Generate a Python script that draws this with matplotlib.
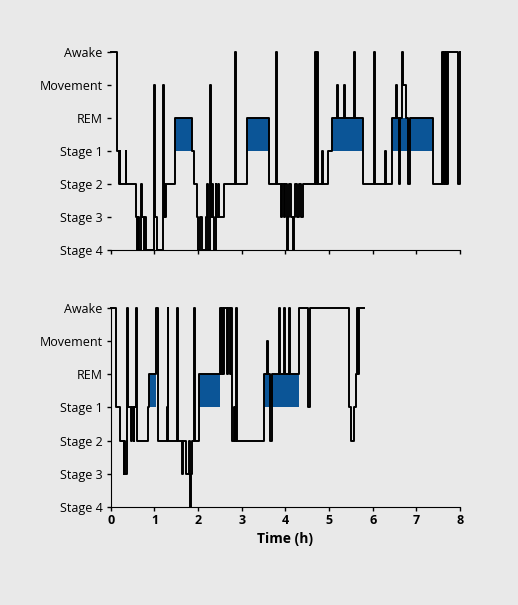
import matplotlib
matplotlib.use("Agg")
import matplotlib.pyplot as plt
import numpy as np

stage_labels = ["Stage 4", "Stage 3", "Stage 2", "Stage 1", "REM", "Movement", "Awake"]

# Top hypnogram: times (h) where stage changes, and stage index (0=Stage 4 ... 6=Awake)
top_t = [0.00, 0.15, 0.18, 0.20, 0.22, 0.34, 0.35, 0.57, 0.60, 0.62, 0.64, 0.70, 0.72, 0.75, 0.78, 0.80,
         1.00, 1.02, 1.05, 1.19, 1.21, 1.23, 1.25, 1.27, 1.47, 1.86, 1.90, 1.98, 2.00, 2.05, 2.08, 2.18,
         2.20, 2.22, 2.28, 2.30, 2.32, 2.34, 2.37, 2.40, 2.42, 2.45, 2.47, 2.52, 2.60, 2.84, 2.86, 3.12,
         3.62, 3.78, 3.80, 3.90, 3.93, 3.96, 3.99, 4.03, 4.05, 4.08, 4.12, 4.17, 4.19, 4.23, 4.27, 4.32,
         4.36, 4.40, 4.68, 4.70, 4.72, 4.74, 4.84, 4.86, 4.98, 5.07, 5.18, 5.20, 5.34, 5.36, 5.57, 5.59,
         5.78, 6.03, 6.05, 6.28, 6.30, 6.44, 6.54, 6.56, 6.61, 6.63, 6.68, 6.70, 6.77, 6.81, 6.86, 6.88,
         7.39, 7.59, 7.62, 7.64, 7.66, 7.68, 7.70, 7.72, 7.96, 8.00]
top_s = [6, 3, 2, 3, 2, 3, 2, 1, 0, 1, 0, 2, 1, 0, 1, 0,
         5, 1, 0, 5, 1, 2, 1, 2, 4, 3, 2, 1, 0, 1, 0, 1,
         2, 0, 5, 1, 2, 1, 0, 2, 1, 2, 1, 1, 2, 6, 2, 4,
         2, 6, 2, 1, 2, 1, 2, 0, 1, 2, 1, 0, 1, 2, 1, 2,
         1, 2, 6, 2, 6, 2, 3, 2, 3, 4, 5, 4, 5, 4, 6, 4,
         2, 6, 2, 3, 2, 4, 5, 4, 2, 4, 6, 5, 4, 2, 4, 4,
         2, 6, 2, 6, 2, 6, 2, 6, 2, 6]
top_rem_start = [1.47, 3.12, 5.07, 6.44]
top_rem_end = [1.86, 3.62, 5.78, 7.39]

# Bottom hypnogram
bot_t = [0.00, 0.11, 0.21, 0.29, 0.31, 0.33, 0.38, 0.40, 0.46, 0.48, 0.52, 0.54, 0.57, 0.59, 0.61, 0.63,
         0.69, 0.84, 0.88, 1.04, 1.08, 1.10, 1.28, 1.30, 1.31, 1.33, 1.51, 1.53, 1.62, 1.65, 1.73, 1.78,
         1.82, 1.84, 1.86, 1.90, 1.93, 1.95, 2.02, 2.51, 2.53, 2.55, 2.58, 2.60, 2.67, 2.69, 2.73, 2.75,
         2.78, 2.82, 2.84, 2.86, 2.88, 2.93, 3.50, 3.58, 3.60, 3.64, 3.70, 3.85, 3.87, 3.96, 3.98, 4.08,
         4.10, 4.30, 4.51, 4.57, 5.45, 5.50, 5.58, 5.61, 5.64, 5.66, 5.68, 5.71, 5.79]
bot_s = [6, 3, 2, 1, 2, 1, 6, 3, 2, 3, 2, 3, 6, 3, 2, 2,
         2, 3, 4, 6, 2, 2, 3, 6, 2, 2, 6, 2, 1, 2, 1, 2,
         0, 1, 2, 6, 2, 2, 4, 6, 4, 6, 4, 6, 4, 6, 4, 6,
         2, 3, 2, 6, 2, 2, 4, 5, 4, 2, 4, 6, 4, 6, 4, 6,
         4, 6, 3, 6, 3, 2, 3, 4, 6, 4, 6, 6, 6]
bot_rem_start = [0.88, 2.02, 3.50]
bot_rem_end = [1.04, 2.51, 4.30]

bg = "#e9e9e9"
blue = "#0b5597"
fig = plt.figure(figsize=(5.18, 6.05), dpi=100, facecolor=bg)
plt.rcParams['font.family'] = ['Open Sans', 'DejaVu Sans']

def draw(ax, t, s, rs, re, bottom):
    ax.set_facecolor(bg)
    for a, b in zip(rs, re):
        ax.fill_between([a, b], 3, 4, color=blue, lw=0, zorder=1)
    ax.step(t, s, where="post", color="black", lw=1.4, zorder=2, clip_on=False)
    ax.set_xlim(0, 8)
    ax.set_ylim(0, 6)
    ax.set_yticks(range(7))
    ax.set_yticklabels(stage_labels, fontsize=9)
    ax.set_xticks(range(9))
    for sp in ["top", "right"]:
        ax.spines[sp].set_visible(False)
    ax.tick_params(length=3, width=1, pad=3)
    if bottom:
        ax.set_xticklabels([str(i) for i in range(9)], fontsize=9, fontweight="bold")
        ax.set_xlabel("Time (h)", fontsize=10, fontweight="bold")
        ax.tick_params(axis="x", pad=2)
    else:
        ax.set_xticklabels([])
        ax.spines["left"].set_visible(False)

ax1 = fig.add_axes([0.214, 0.587, 0.674, 0.327])
ax2 = fig.add_axes([0.214, 0.162, 0.674, 0.329])
draw(ax1, top_t, top_s, top_rem_start, top_rem_end, False)
draw(ax2, bot_t, bot_s, bot_rem_start, bot_rem_end, True)
fig.savefig("out.png", dpi=100, facecolor=bg)
